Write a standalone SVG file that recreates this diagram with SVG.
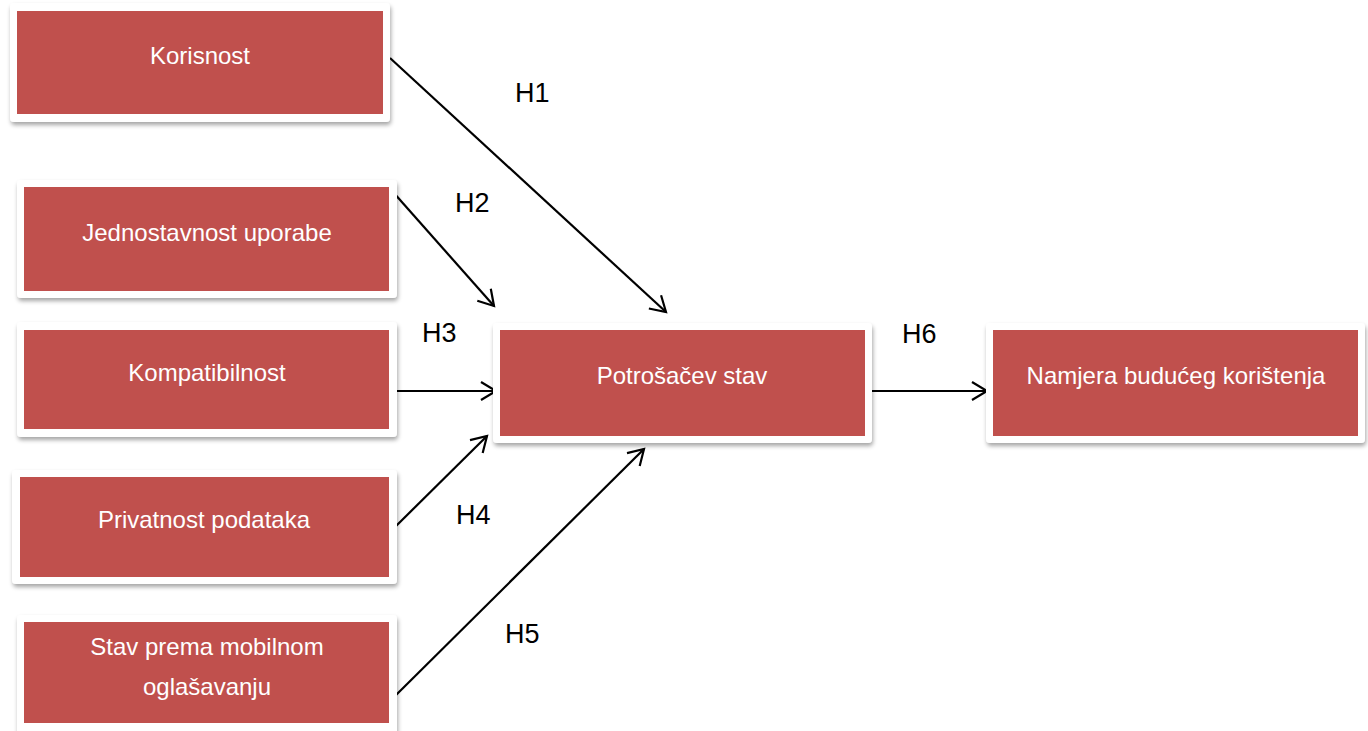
<svg xmlns="http://www.w3.org/2000/svg" width="1368" height="731" viewBox="0 0 1368 731">
<defs>
<filter id="sh" x="-5%" y="-10%" width="110%" height="125%">
<feDropShadow dx="1" dy="3" stdDeviation="2" flood-color="#000" flood-opacity="0.35"/>
</filter>
<marker id="ah" markerUnits="userSpaceOnUse" markerWidth="30" markerHeight="30" viewBox="-20 -15 30 30" refX="0" refY="0" orient="auto">
<path d="M-15,-9 L0,0 L-15,9" fill="none" stroke="#000" stroke-width="2.2"/>
</marker>
</defs>
<style>
.outer{fill:#fff;filter:url(#sh)}
.inner{fill:#C0504D}
.nt{font-family:"Liberation Sans",Arial,sans-serif;font-size:24px;fill:#fff;text-anchor:middle}
.lb{font-family:"Liberation Sans",Arial,sans-serif;font-size:27px;fill:#000}
.cn{stroke:#000;stroke-width:2.2;fill:none;marker-end:url(#ah)}
</style>
<rect width="1368" height="731" fill="#fff"/>
<g id="connectors">
<line class="cn" x1="390" y1="58" x2="666" y2="312"/>
<line class="cn" x1="393" y1="192" x2="494" y2="306"/>
<line class="cn" x1="395" y1="391" x2="496" y2="391"/>
<line class="cn" x1="393" y1="529" x2="487" y2="436"/>
<line class="cn" x1="393" y1="698" x2="644" y2="449"/>
<line class="cn" x1="870" y1="391" x2="987" y2="391"/>
</g>
<g id="labels">
<text class="lb" x="515" y="102">H1</text>
<text class="lb" x="455" y="212">H2</text>
<text class="lb" x="422" y="342">H3</text>
<text class="lb" x="456" y="524">H4</text>
<text class="lb" x="505" y="643">H5</text>
<text class="lb" x="902" y="343">H6</text>
</g>
<g id="korisnost">
<rect class="outer" x="10" y="3" width="380" height="119" rx="4"/>
<rect class="inner" x="17" y="11" width="366" height="103"/>
<text class="nt" x="200" y="64">Korisnost</text>
</g>
<g id="jednostavnost">
<rect class="outer" x="17" y="180" width="380" height="118" rx="4"/>
<rect class="inner" x="24" y="187" width="365" height="104"/>
<text class="nt" x="207" y="241">Jednostavnost uporabe</text>
</g>
<g id="kompatibilnost">
<rect class="outer" x="17" y="322" width="380" height="115" rx="4"/>
<rect class="inner" x="24" y="330" width="365" height="99"/>
<text class="nt" x="207" y="381">Kompatibilnost</text>
</g>
<g id="privatnost">
<rect class="outer" x="12" y="470" width="385" height="114" rx="4"/>
<rect class="inner" x="20" y="477" width="369" height="100"/>
<text class="nt" x="204" y="528">Privatnost podataka</text>
</g>
<g id="stav">
<rect class="outer" x="17" y="615" width="380" height="124" rx="4"/>
<rect class="inner" x="24" y="622" width="365" height="101"/>
<text class="nt" x="207" y="655">Stav prema mobilnom</text>
<text class="nt" x="207" y="695">oglašavanju</text>
</g>
<g id="potrosacev">
<rect class="outer" x="493" y="323" width="379" height="120" rx="4"/>
<rect class="inner" x="500" y="330" width="365" height="106"/>
<text class="nt" x="682" y="384">Potrošačev stav</text>
</g>
<g id="namjera">
<rect class="outer" x="986" y="323" width="379" height="120" rx="4"/>
<rect class="inner" x="993" y="330" width="365" height="106"/>
<text class="nt" x="1176" y="384">Namjera budućeg korištenja</text>
</g>
</svg>
